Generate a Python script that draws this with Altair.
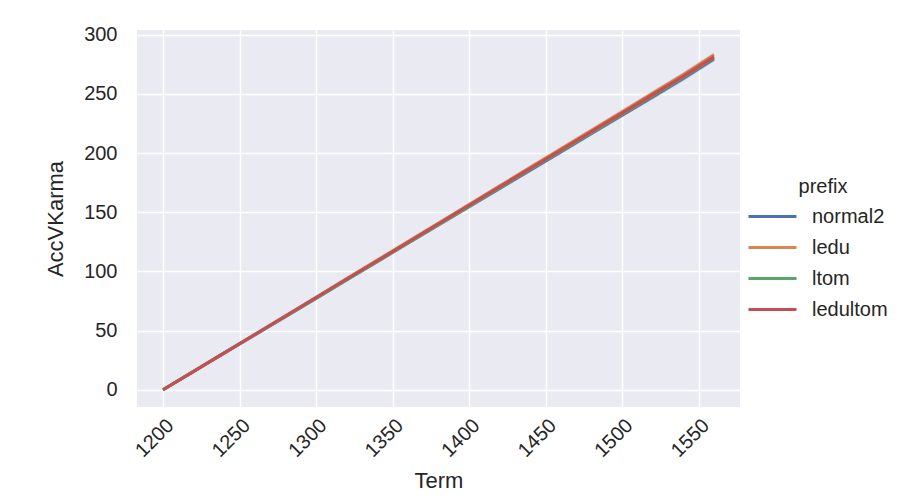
import altair as alt
import pandas as pd

terms = [1200, 1220, 1240, 1260, 1280, 1300, 1320, 1340, 1360, 1380, 1400,
         1420, 1440, 1460, 1480, 1500, 1520, 1540, 1560]
prefixes = ["normal2", "ledu", "ltom", "ledultom"]
colors = ["#4C72B0", "#DD8452", "#55A868", "#C44E52"]

normal2 = [0.0, 15.5, 31.0, 46.4, 61.8, 77.2, 92.8, 108.3, 123.8, 139.2, 154.7,
           170.1, 185.6, 201.0, 216.5, 232.0, 247.4, 263.0, 279.5]
ledu = [0.0, 15.7, 31.4, 47.0, 62.6, 78.2, 94.0, 109.6, 125.3, 140.9, 156.6,
        172.3, 188.0, 203.6, 219.3, 235.0, 250.7, 266.4, 283.0]
ltom = [0.0, 15.6, 31.1, 46.6, 62.0, 77.4, 93.0, 108.5, 124.1, 139.6, 155.2,
        170.7, 186.3, 201.8, 217.3, 232.9, 248.5, 264.0, 280.8]
ledultom = [0.0, 15.6, 31.2, 46.8, 62.4, 78.0, 93.6, 109.1, 124.7, 140.3, 155.9,
            171.5, 187.1, 202.6, 218.2, 233.8, 249.4, 265.0, 281.3]
ci_half = [0.0, 0.3, 0.5, 0.7, 0.8, 1.0, 1.1, 1.2, 1.3, 1.4, 1.5,
           1.6, 1.7, 1.8, 1.9, 2.0, 2.1, 2.2, 2.4]

series = {"normal2": normal2, "ledu": ledu, "ltom": ltom, "ledultom": ledultom}

rows = []
for p in prefixes:
    for t, v, c in zip(terms, series[p], ci_half):
        rows.append({"Term": t, "AccVKarma": v, "lo": v - c, "hi": v + c, "prefix": p})
df = pd.DataFrame(rows)

font = "Liberation Sans"
xs = alt.Scale(domain=[1183, 1577], nice=False, zero=False)
ys = alt.Scale(domain=[-14.5, 304], nice=False, zero=False)
cs = alt.Scale(domain=prefixes, range=colors)

layers = []
for i, p in enumerate(prefixes):
    sub = df[df["prefix"] == p]
    band = alt.Chart(sub).mark_area(opacity=0.2, color=colors[i]).encode(
        x=alt.X("Term:Q", scale=xs),
        y=alt.Y("lo:Q", scale=ys),
        y2="hi:Q",
    )
    line = alt.Chart(sub).mark_line(strokeWidth=3).encode(
        x=alt.X("Term:Q", scale=xs,
                axis=alt.Axis(values=[1200, 1250, 1300, 1350, 1400, 1450, 1500, 1550],
                              labelAngle=-45, format="d", title="Term")),
        y=alt.Y("AccVKarma:Q", scale=ys,
                axis=alt.Axis(values=[0, 50, 100, 150, 200, 250, 300], title="AccVKarma")),
        color=alt.Color("prefix:N", scale=cs, title="prefix",
                        legend=alt.Legend(orient="none", legendX=622, legendY=147,
                                          symbolType="M-2,0H2", symbolSize=576,
                                          symbolStrokeWidth=3, titleAnchor="middle",
                                          rowPadding=7, titlePadding=6)),
    )
    layers += [band, line]

chart = alt.layer(*layers).properties(
    width=603, height=377,
    autosize=alt.AutoSizeParams(type="none"),
    padding={"left": 129, "top": 22, "right": 171, "bottom": 92},
).configure_view(fill="#EAEAF2", stroke=None).configure_axis(
    grid=True, gridColor="white", gridWidth=1.5, domain=False, ticks=False,
    labelFont=font, titleFont=font, labelFontSize=20, titleFontSize=22,
    labelColor="#262626", titleColor="#262626", titleFontWeight="normal",
).configure_axisY(labelPadding=20, titlePadding=16).configure_axisX(
    labelPadding=8, titlePadding=10
).configure_legend(
    labelFont=font, titleFont=font, labelFontSize=20, titleFontSize=20,
    labelColor="#262626", titleColor="#262626", titleFontWeight="normal",
    labelOffset=26,
)

chart.save("out.html", embed_options={"renderer": "svg", "actions": False})
